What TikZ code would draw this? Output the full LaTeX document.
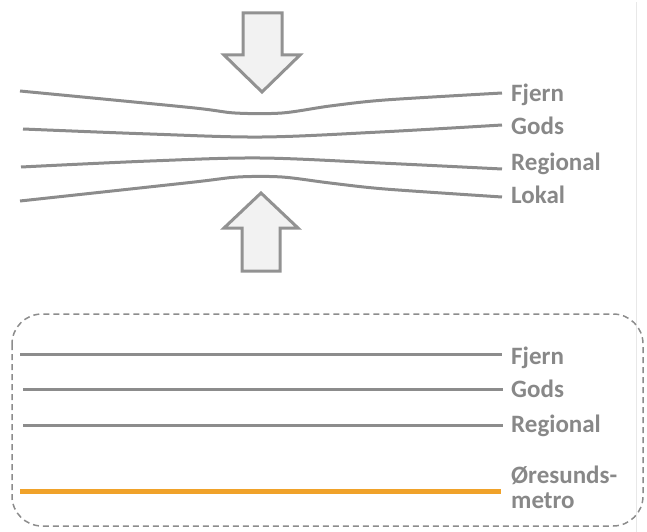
\documentclass[tikz,border=0pt]{standalone}
\usepackage{fontspec}
\setmainfont{Carlito}
\definecolor{linegray}{HTML}{8C8C8C}
\definecolor{txtgray}{HTML}{888888}
\definecolor{arrfill}{HTML}{F2F2F2}
\definecolor{arrline}{HTML}{929292}
\definecolor{orng}{HTML}{F0A22A}
\definecolor{faint}{HTML}{E8E8E8}
\definecolor{dashgray}{HTML}{8C8C8C}
\begin{document}
\begin{tikzpicture}[x=1pt,y=-1pt,
  track/.style={draw=linegray,line width=3pt},
  metrotrack/.style={draw=orng,line width=5pt},
  lbl/.style={anchor=base west,inner sep=0pt,text=txtgray,font=\bfseries\fontsize{25}{25}\selectfont},
  bigarrow/.style={draw=arrline,fill=arrfill,line width=3pt,line join=miter},
  dashbox/.style={draw=dashgray,line width=1.5pt,dash pattern=on 6pt off 4pt,rounded corners=30pt}]
\useasboundingbox (0,0) rectangle (647,532);
% faint page edge
\draw[faint,line width=1pt] (636,2) -- (636,532);
% arrows
\draw[bigarrow] (243,13) -- (282,13) -- (282,55) -- (300,55) -- (262,92) -- (224,55) -- (243,55) -- cycle;
\draw[bigarrow] (261,193) -- (298,228) -- (280,228) -- (280,271) -- (242,271) -- (242,228) -- (224,228) -- cycle;
% top converging tracks
\draw[track] plot[smooth,tension=0.5] coordinates {(20,91) (190,107.5) (235,113) (282,113) (330,106) (385,100) (502,93)};
\draw[track] plot[smooth,tension=0.55] coordinates {(23,129) (150,134) (262,137) (380,132) (502,125)};
\draw[track] plot[smooth,tension=0.55] coordinates {(21,167) (150,161) (260,158) (380,163) (502,169)};
\draw[track] plot[smooth,tension=0.5] coordinates {(20,201) (190,182.5) (238,177) (282,177) (330,183) (385,189) (502,197)};
\node[lbl] (tf) at (511,102) {Fjern};
\node[lbl] (tg) at (511,134) {Gods};
\node[lbl] (tr) at (511,170) {Regional};
\node[lbl] (tl) at (511,203) {Lokal};
% bottom box
\draw[dashbox] (12,314) rectangle (643,526);
\draw[track] (20,354) -- (502,354);
\draw[track] (23,389) -- (503,389);
\draw[track] (23,425) -- (503,425);
\draw[metrotrack] (20,491) -- (501,491);
\node[lbl] (bf) at (511,364) {Fjern};
\node[lbl] (bg) at (511,397) {Gods};
\node[lbl] (br) at (511,432) {Regional};
\node[lbl] (bo) at (511,483) {Øresunds-};
\node[lbl] (bm) at (511,508) {metro};
\end{tikzpicture}
\end{document}
